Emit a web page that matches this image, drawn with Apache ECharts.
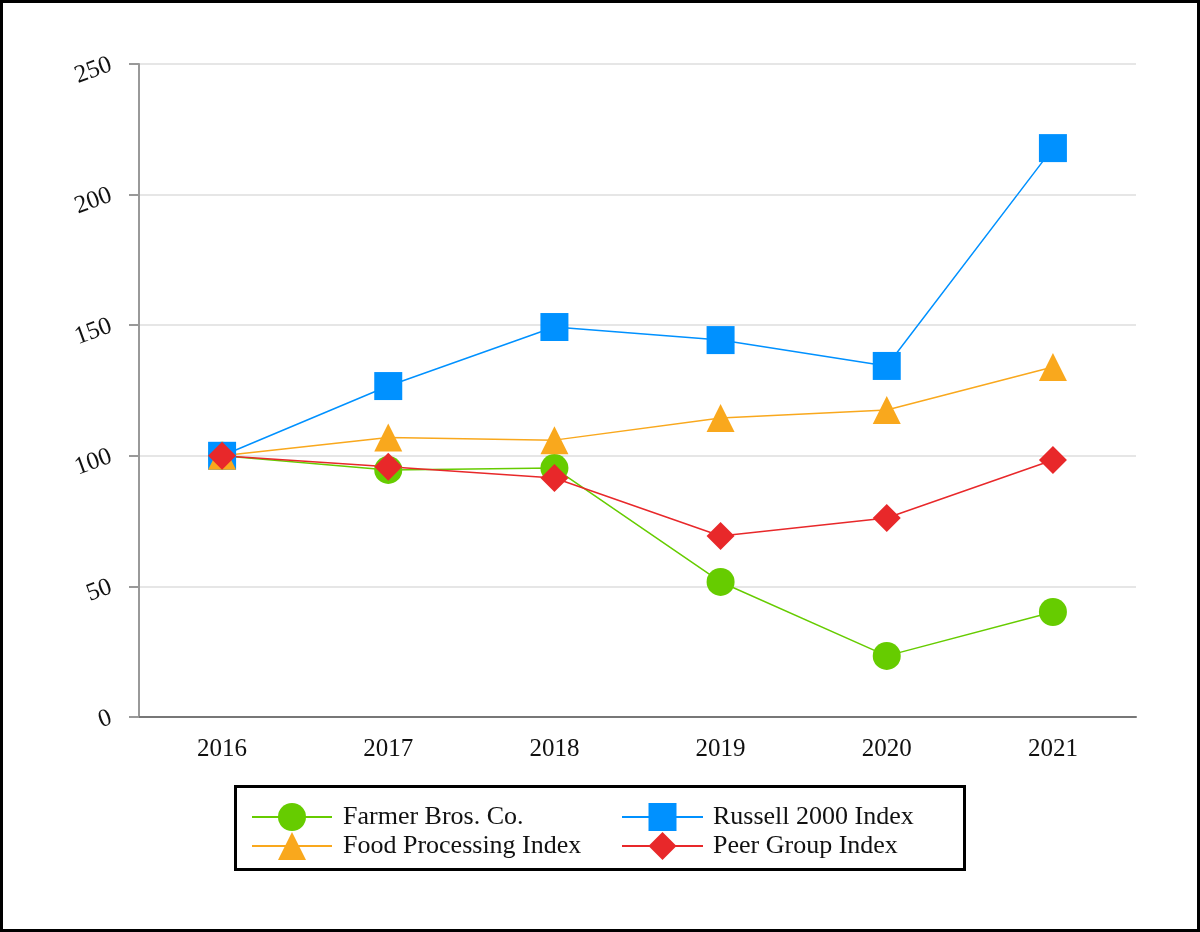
<!DOCTYPE html>
<html>
<head>
<meta charset="utf-8">
<script src="https://cdn.jsdelivr.net/npm/echarts@6/dist/echarts.min.js"></script>
<style>
html,body{margin:0;padding:0;background:#fff;}
#c{width:1200px;height:932px;}
</style>
</head>
<body>
<div id="c"></div>
<script>
const categories = ['2016', '2017', '2018', '2019', '2020', '2021'];
const farmerBros = [100, 94.6, 95.3, 51.7, 23.4, 40.2];
const russell2000 = [100, 126.7, 149.3, 144.3, 134.4, 217.8];
const foodProcessing = [100, 107.0, 106.0, 114.5, 117.5, 134.0];
const peerGroup = [100, 95.8, 91.5, 69.3, 76.2, 98.4];
const yTicks = [0, 50, 100, 150, 200, 250];

const serif = '"Liberation Serif", "Times New Roman", serif';
const chart = echarts.init(document.getElementById('c'));

function mkSeries(name, data, color, symbol) {
  return {
    name: name, type: 'line', data: data,
    symbol: symbol, symbolSize: 28,
    lineStyle: {color: color, width: 1.5},
    itemStyle: {color: color},
    emphasis: {disabled: true},
    animation: false
  };
}

chart.setOption({
  animation: false,
  backgroundColor: '#fff',
  grid: {left: 139, right: 64, top: 64, bottom: 215},
  xAxis: {
    type: 'category', data: categories, boundaryGap: true,
    axisLine: {lineStyle: {color: '#777', width: 2}},
    axisTick: {alignWithLabel: true, length: 10, lineStyle: {color: '#999', width: 2}},
    axisLabel: {fontFamily: serif, fontSize: 25, color: '#111', margin: 20}
  },
  yAxis: {
    type: 'value', min: yTicks[0], max: yTicks[yTicks.length - 1], interval: 50,
    axisLine: {show: true, lineStyle: {color: '#999', width: 2}},
    axisTick: {show: true, length: 10, lineStyle: {color: '#999', width: 2}},
    splitLine: {lineStyle: {color: '#e6e6e6', width: 2}},
    axisLabel: {fontFamily: serif, fontSize: 25, color: '#111', margin: 28, rotate: 20}
  },
  legend: [
    {
      orient: 'vertical', left: 251, top: 803, padding: 0,
      itemWidth: 80, itemHeight: 35, itemGap: 1,
      data: ['Farmer Bros. Co.', 'Food Processing Index'],
      textStyle: {fontFamily: serif, fontSize: 26, color: '#111', padding: [0, 0, 0, 6]},
      selectedMode: false
    },
    {
      orient: 'vertical', left: 621, top: 803, padding: 0,
      itemWidth: 81, itemHeight: 35, itemGap: 1,
      data: ['Russell 2000 Index', 'Peer Group Index'],
      textStyle: {fontFamily: serif, fontSize: 26, color: '#111', padding: [0, 0, 0, 5]},
      selectedMode: false
    }
  ],
  graphic: [
    {type: 'rect', shape: {x: 1.5, y: 1.5, width: 1197, height: 929},
     style: {fill: null, stroke: '#000', lineWidth: 3}, silent: true},
    {type: 'rect', shape: {x: 235.5, y: 786.5, width: 729, height: 83},
     style: {fill: null, stroke: '#000', lineWidth: 3}, silent: true}
  ],
  series: [
    mkSeries('Farmer Bros. Co.', farmerBros, '#66cc00', 'circle'),
    mkSeries('Russell 2000 Index', russell2000, '#0091ff', 'rect'),
    mkSeries('Food Processing Index', foodProcessing, '#f9a81d', 'triangle'),
    mkSeries('Peer Group Index', peerGroup, '#e8282a', 'diamond')
  ]
});
</script>
</body>
</html>
